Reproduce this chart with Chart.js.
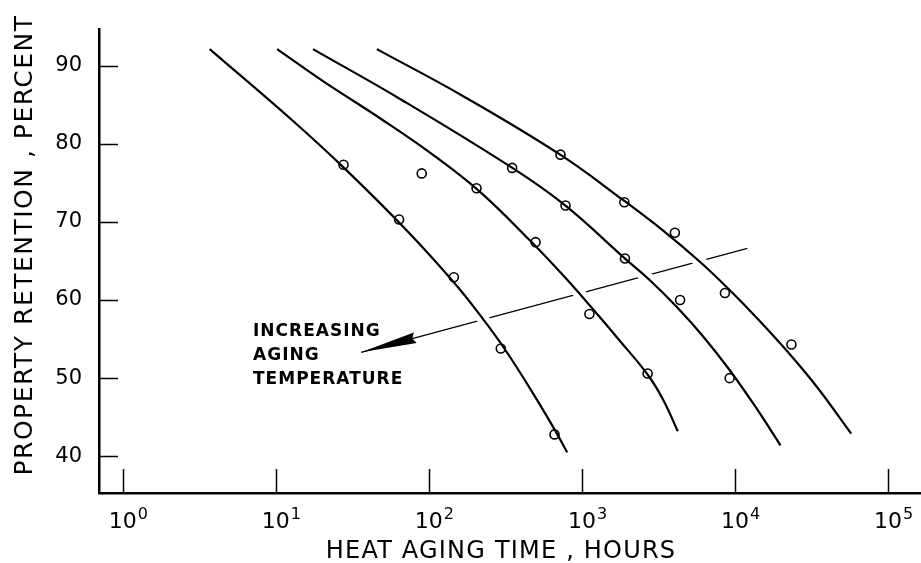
<!DOCTYPE html>
<html>
<head>
<meta charset="utf-8">
<script src="https://cdn.jsdelivr.net/npm/chart.js@4.4.1/dist/chart.umd.min.js"></script>
<style>
  html, body { margin: 0; padding: 0; background: #fff; }
  #wrap { width: 921px; height: 563px; }
</style>
</head>
<body>
<div id="wrap"><canvas id="chart"></canvas></div>
<script>
// axis ticks
const xTicks = [1, 10, 100, 1000, 10000, 100000];
const xTickExp = ["0", "1", "2", "3", "4", "5"];
const yTicks = [40, 50, 60, 70, 80, 90];

// drawn curves, left to right
const curve1Hours = [3.7, 12.8, 27.9, 71.7, 145, 221, 316, 488, 659, 801];
const curve1Pct   = [92.1, 83.0, 76.9, 68.9, 62.3, 57.8, 53.6, 47.8, 43.5, 40.5];
const curve2Hours = [10.2, 20.0, 49.3, 104.3, 214, 453, 766, 1148, 1800, 2698, 3378, 4229];
const curve2Pct   = [92.1, 88.1, 83.1, 78.7, 73.9, 67.7, 63.0, 59.1, 54.6, 50.4, 47.3, 43.2];
const curve3Hours = [17.5, 66.5, 351, 777, 1911, 2822, 4167, 6152, 9085, 13414, 19812];
const curve3Pct   = [92.1, 85.6, 76.9, 72.1, 65.3, 62.4, 59.1, 55.4, 51.2, 46.5, 41.4];
const curve4Hours = [45.7, 163.5, 721, 1883, 3533, 5970, 9085, 14035, 22000, 34500, 57420];
const curve4Pct   = [92.1, 86.2, 78.6, 72.7, 68.6, 64.8, 61.4, 57.6, 53.4, 48.8, 42.9];

// measured points (open circles)
const pts1Hours = [27.7, 63.9, 145.7, 295, 662];
const pts1Pct   = [77.3, 70.3, 62.9, 53.8, 42.8];
const pts2Hours = [89.8, 204.8, 498, 1119, 2685];
const pts2Pct   = [76.2, 74.3, 67.4, 58.2, 50.6];
const pts3Hours = [350, 781, 1910, 4377, 9220];
const pts3Pct   = [76.9, 72.1, 65.3, 60.0, 50.0];
const pts4Hours = [724, 1892, 4045, 8590, 23350];
const pts4Pct   = [78.6, 72.5, 68.6, 60.9, 54.3];

// "increasing aging temperature" arrow, from right end to tip
const arrowFrom = [12030, 66.6];
const arrowTo = [36.1, 53.3];
const noteLines = ["INCREASING", "AGING", "TEMPERATURE"];
const noteAt = [7.1, 55.4];

const xTitle = "HEAT AGING TIME , HOURS";
const yTitle = "PROPERTY RETENTION , PERCENT";

const xy = (xs, ys) => xs.map((x, i) => ({ x: x, y: ys[i] }));

const curves = [
  xy(curve1Hours, curve1Pct),
  xy(curve2Hours, curve2Pct),
  xy(curve3Hours, curve3Pct),
  xy(curve4Hours, curve4Pct)
];
const points = [
  xy(pts1Hours, pts1Pct),
  xy(pts2Hours, pts2Pct),
  xy(pts3Hours, pts3Pct),
  xy(pts4Hours, pts4Pct)
];

const datasets = [];
// white band under each curve so the arrow line breaks where it crosses
curves.forEach(c => datasets.push({
  data: c, showLine: true, borderColor: "#ffffff", borderWidth: 12,
  pointRadius: 0, tension: 0.4, order: 10
}));
curves.forEach(c => datasets.push({
  data: c, showLine: true, borderColor: "#000000", borderWidth: 2.2,
  pointRadius: 0, tension: 0.4, order: 5
}));
points.forEach(p => datasets.push({
  data: p, showLine: false, pointRadius: 4.5, pointBorderWidth: 1.6,
  pointBorderColor: "#000", pointBackgroundColor: "rgba(0,0,0,0)", order: 1
}));

const FONT = "'DejaVu Sans', sans-serif";

const decor = {
  id: "decor",
  beforeDatasetsDraw(chart) {
    const { ctx, scales: { x, y } } = chart;
    const x1 = x.getPixelForValue(arrowFrom[0]), y1 = y.getPixelForValue(arrowFrom[1]);
    const x2 = x.getPixelForValue(arrowTo[0]), y2 = y.getPixelForValue(arrowTo[1]);
    ctx.save();
    ctx.strokeStyle = "#000";
    ctx.fillStyle = "#000";
    ctx.lineWidth = 1.3;
    ctx.beginPath();
    ctx.moveTo(x1, y1);
    ctx.lineTo(x2, y2);
    ctx.stroke();
    // long wedge arrowhead
    const len = Math.hypot(x1 - x2, y1 - y2);
    const ux = (x1 - x2) / len, uy = (y1 - y2) / len;
    const bx = x2 + ux * 56, by = y2 + uy * 56;
    ctx.beginPath();
    ctx.moveTo(x2, y2);
    ctx.lineTo(bx - uy * 5.5, by + ux * 5.5);
    ctx.lineTo(bx - ux * 3, by - uy * 3);
    ctx.lineTo(bx + uy * 5.5, by - ux * 5.5);
    ctx.closePath();
    ctx.fill();
    ctx.restore();
  },
  afterDraw(chart) {
    const { ctx, chartArea, scales: { x, y } } = chart;
    ctx.save();
    ctx.strokeStyle = "#000";
    ctx.fillStyle = "#000";
    ctx.lineWidth = 1.5;
    // tick marks point into the plot
    xTicks.forEach(v => {
      const px = Math.round(x.getPixelForValue(v)) + 0.5;
      ctx.beginPath();
      ctx.moveTo(px, chartArea.bottom);
      ctx.lineTo(px, chartArea.bottom - 24);
      ctx.stroke();
    });
    yTicks.forEach(v => {
      const py = Math.round(y.getPixelForValue(v)) + 0.5;
      ctx.beginPath();
      ctx.moveTo(chartArea.left, py);
      ctx.lineTo(chartArea.left + 19, py);
      ctx.stroke();
    });

    // 10^n labels
    ctx.textBaseline = "alphabetic";
    xTicks.forEach((v, i) => {
      const px = x.getPixelForValue(v);
      ctx.font = "22px " + FONT;
      ctx.textAlign = "left";
      const w = ctx.measureText("10").width;
      ctx.fillText("10", px - 14, chartArea.bottom + 35);
      ctx.font = "16px " + FONT;
      ctx.fillText(xTickExp[i], px - 14 + w + 1, chartArea.bottom + 26);
    });

    // axis titles
    ctx.font = "24px " + FONT;
    ctx.letterSpacing = "1.2px";
    ctx.textAlign = "center";
    ctx.fillText(xTitle, 501, 558);

    ctx.save();
    ctx.translate(32, 245);
    ctx.rotate(-Math.PI / 2);
    ctx.font = "25px " + FONT;
    ctx.letterSpacing = "1.5px";
    ctx.fillText(yTitle, 0, 0);
    ctx.restore();

    // note beside the arrow
    ctx.font = "bold 17px " + FONT;
    ctx.letterSpacing = "1px";
    ctx.textAlign = "left";
    const nx = x.getPixelForValue(noteAt[0]);
    const ny = y.getPixelForValue(noteAt[1]);
    noteLines.forEach((t, i) => ctx.fillText(t, nx, ny + i * 24));
    ctx.restore();
  }
};

new Chart(document.getElementById("chart"), {
  type: "scatter",
  data: { datasets: datasets },
  options: {
    responsive: true,
    maintainAspectRatio: false,
    animation: false,
    layout: { autoPadding: false, padding: { top: 27, left: 0, right: 0, bottom: 0 } },
    plugins: { legend: { display: false }, tooltip: { enabled: false } },
    scales: {
      x: {
        type: "logarithmic",
        min: 0.73,
        max: 164000,
        afterBuildTicks: s => { s.ticks = xTicks.map(v => ({ value: v })); },
        afterFit: s => { s.height = 70; },
        ticks: { display: false },
        grid: { drawOnChartArea: false, drawTicks: false },
        border: { display: true, color: "#000", width: 2.5 }
      },
      y: {
        type: "linear",
        min: 35.3,
        max: 94.6,
        afterBuildTicks: s => { s.ticks = yTicks.map(v => ({ value: v })); },
        afterFit: s => { s.width = 99; },
        ticks: { color: "#000", padding: 17, font: { family: "DejaVu Sans", size: 21 } },
        grid: { drawOnChartArea: false, drawTicks: false },
        border: { display: true, color: "#000", width: 2.5 }
      }
    }
  },
  plugins: [decor]
});
</script>
</body>
</html>
